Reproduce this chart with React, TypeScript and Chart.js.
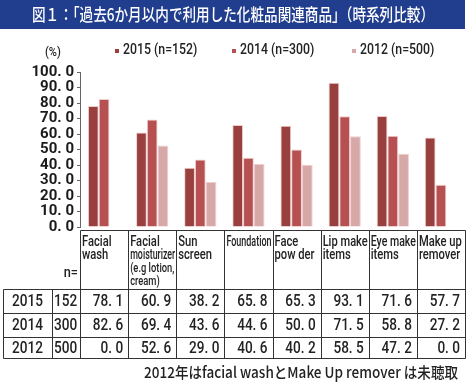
import { useEffect, useRef } from 'react';
import { Chart, registerables } from 'chart.js';

Chart.register(...registerables);

const titleText = '図１：「過去6か月以内で利用した化粧品関連商品」（時系列比較）';
const unitLabel = '(%)';
const nLabel = 'n=';
const footnote = '2012年はfacial washとMake Up remover は未聴取';

const categoryLines: string[][] = [
  ['Facial', 'wash'],
  ['Facial', 'moisturizer', '(e.g lotion,', 'cream)'],
  ['Sun', 'screen'],
  ['Foundation'],
  ['Face', 'pow der'],
  ['Lip make', 'items'],
  ['Eye make', 'items'],
  ['Make up', 'remover'],
];

const seriesYears = ['2015', '2014', '2012'];
const sampleSizes = [152, 300, 500];
const values2015 = [78.1, 60.9, 38.2, 65.8, 65.3, 93.1, 71.6, 57.7];
const values2014 = [82.6, 69.4, 43.6, 44.6, 50.0, 71.5, 58.8, 27.2];
const values2012 = [0.0, 52.6, 29.0, 40.6, 40.2, 58.5, 47.2, 0.0];
const seriesColors = ['#993f3e', '#b75050', '#d7a8a8'];

const yTickValues = [0, 10, 20, 30, 40, 50, 60, 70, 80, 90, 100];
const yTickLabels = ['0. 0', '10. 0', '20. 0', '30. 0', '40. 0', '50. 0', '60. 0', '70. 0', '80. 0', '90. 0', '100. 0'];

const allSeries = [values2015, values2014, values2012];
const fmt = (v: number) => v.toFixed(1).replace('.', '. ');

function drawText(
  ctx: CanvasRenderingContext2D,
  text: string,
  x: number,
  y: number,
  font: string,
  sx: number,
  align: CanvasTextAlign,
  maxW?: number
) {
  ctx.save();
  ctx.font = font;
  ctx.textAlign = align;
  ctx.translate(x, y);
  ctx.scale(sx, 1);
  if (maxW) ctx.fillText(text, 0, 0, maxW / sx);
  else ctx.fillText(text, 0, 0);
  ctx.restore();
}

const decorPlugin = {
  id: 'decor',
  beforeDraw(chart: any) {
    const ctx = chart.ctx as CanvasRenderingContext2D;
    ctx.save();
    ctx.fillStyle = '#ffffff';
    ctx.fillRect(0, 0, chart.width, chart.height);
    ctx.fillStyle = '#213e8e';
    ctx.fillRect(0, 0, 465, 29);
    ctx.fillStyle = '#ffffff';
    ctx.textBaseline = 'middle';
    drawText(ctx, titleText, 233, 15, '500 17px "Noto Sans CJK JP"', 1, 'center', 402);
    ctx.fillStyle = '#222';
    drawText(ctx, unitLabel, 45, 53, '500 13px Roboto', 0.85, 'left');
    const lx = [115, 232, 352];
    chart.data.datasets.forEach((ds: any, i: number) => {
      ctx.fillStyle = ds.backgroundColor;
      ctx.fillRect(lx[i], 49, 4, 4);
      ctx.fillStyle = '#222';
      drawText(ctx, ds.label, lx[i] + 8, 50, '500 15px Roboto', 0.82, 'left', 77);
    });
    ctx.restore();
  },
  afterDraw(chart: any) {
    const ctx = chart.ctx as CanvasRenderingContext2D;
    const xs = chart.scales.x;
    const n = categoryLines.length;
    const colW = (xs.right - xs.left) / n;
    const edges: number[] = [];
    for (let i = 0; i <= n; i++) edges.push(xs.left + i * colW);
    const headTop = 230;
    const rowY = [289, 313, 337, 358];
    const left0 = 3;
    const left1 = 52;
    ctx.save();
    ctx.strokeStyle = '#333';
    ctx.lineWidth = 1;
    const line = (x1: number, y1: number, x2: number, y2: number) => {
      ctx.beginPath();
      ctx.moveTo(Math.round(x1) + 0.5, Math.round(y1) + 0.5);
      ctx.lineTo(Math.round(x2) + 0.5, Math.round(y2) + 0.5);
      ctx.stroke();
    };
    line(edges[0], headTop, edges[n], headTop);
    rowY.forEach((y) => line(left0, y, edges[n], y));
    edges.forEach((x) => line(x, headTop, x, rowY[3]));
    line(left0, rowY[0], left0, rowY[3]);
    line(left1, rowY[0], left1, rowY[3]);

    ctx.fillStyle = '#222';
    ctx.textBaseline = 'top';
    categoryLines.forEach((lines, i) => {
      lines.forEach((t, j) => {
        const small = t.startsWith('(') || t === 'cream)';
        const font = small ? '500 13px Roboto' : '500 14px Roboto';
        drawText(ctx, t, edges[i] + 2, 235 + j * 13.5, font, small ? 0.72 : 0.8, 'left', colW - 3);
      });
    });
    ctx.textBaseline = 'middle';
    drawText(ctx, nLabel, 78, 273, '500 15px Roboto', 0.85, 'right');

    allSeries.forEach((vals, r) => {
      const cy = (rowY[r] + rowY[r + 1]) / 2 + 1;
      const f = '500 17px Roboto';
      drawText(ctx, seriesYears[r], (left0 + left1) / 2, cy, f, 0.8, 'center');
      drawText(ctx, String(sampleSizes[r]), left1 + 2, cy, f, 0.8, 'left', 26);
      vals.forEach((v, i) => {
        drawText(ctx, fmt(v), edges[i + 1] - 5, cy, f, 0.8, 'right');
      });
    });

    drawText(ctx, footnote, 458, 372, '500 15px "Noto Sans CJK JP"', 1, 'right', 314);
    ctx.restore();
  },
};

export default function App() {
  const ref = useRef<HTMLCanvasElement | null>(null);
  useEffect(() => {
    if (!ref.current) return;
    const chart = new Chart(ref.current, {
      type: 'bar',
      data: {
        labels: categoryLines.map((l) => l.join(' ')),
        datasets: allSeries.map((vals, i) => ({
          label: `${seriesYears[i]} (n=${sampleSizes[i]})`,
          data: vals,
          backgroundColor: seriesColors[i],
          borderColor: 'rgba(238, 200, 200, 0.9)',
          borderWidth: 1,
          barPercentage: 1,
          categoryPercentage: 0.67,
        })),
      },
      options: {
        animation: false,
        responsive: false,
        maintainAspectRatio: false,
        devicePixelRatio: 1,
        layout: { padding: { left: 0, right: 2, top: 72, bottom: 161 } },
        plugins: { legend: { display: false }, tooltip: { enabled: false } },
        scales: {
          x: { display: false },
          y: {
            min: 0,
            max: 100,
            afterBuildTicks: (scale: any) => {
              scale.ticks = yTickValues.map((v) => ({ value: v }));
            },
            afterFit: (scale: any) => {
              scale.width = 80;
            },
            grid: { drawOnChartArea: false, tickLength: 3, color: '#666' },
            border: { color: '#666', width: 1 },
            ticks: {
              autoSkip: false,
              padding: 3,
              color: '#1a1a1a',
              font: { family: 'Roboto', size: 15, weight: 'bold', lineHeight: 1 },
              callback: (v: any) => {
                const idx = yTickValues.indexOf(Number(v));
                return idx >= 0 ? yTickLabels[idx] : '';
              },
            },
          },
        },
      },
      plugins: [decorPlugin],
    });
    return () => chart.destroy();
  }, []);
  return (
    <div style={{ position: 'absolute', left: 0, top: 0, width: 467, height: 388 }}>
      <canvas ref={ref} width={467} height={388} style={{ width: 467, height: 388, display: 'block' }} />
    </div>
  );
}
